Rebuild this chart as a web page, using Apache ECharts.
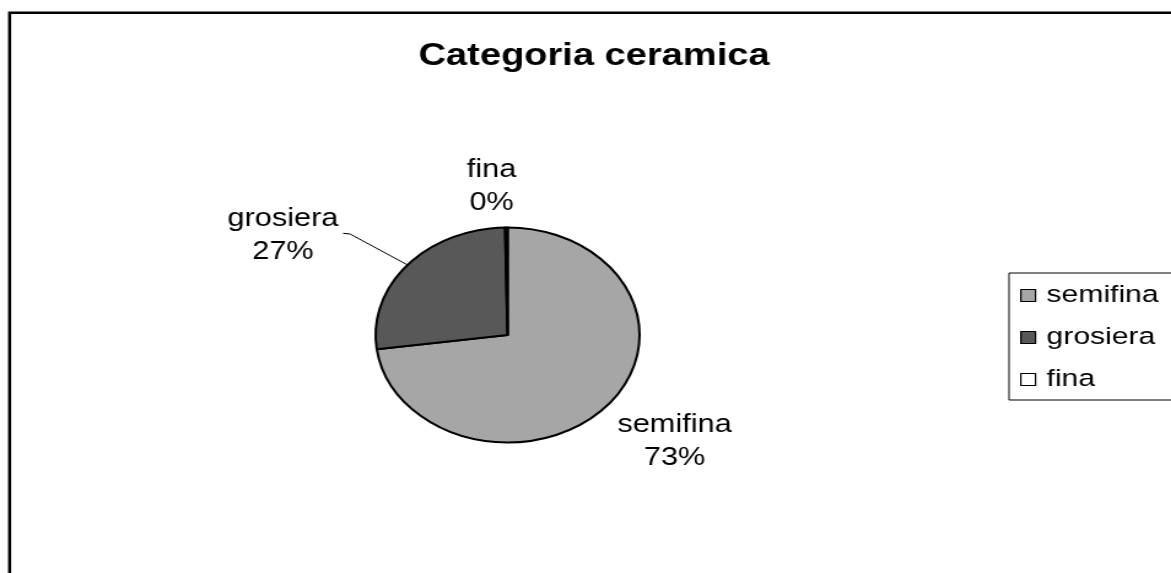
<!DOCTYPE html>
<html>
<head>
<meta charset="utf-8">
<title>Categoria ceramica</title>
<script src="https://cdn.jsdelivr.net/npm/echarts@6/dist/echarts.min.js"></script>
<style>
  html, body { margin: 0; padding: 0; background: #fff; overflow: hidden; }
  /* the source picture is stretched sideways, so draw narrow and stretch it */
  #chart { width: 954px; height: 573px; transform: scaleX(1.2275); transform-origin: 0 0; }
</style>
</head>
<body>
<div id="chart"></div>
<script>
const categories = ['semifina', 'grosiera', 'fina'];
const shares = [72.9, 26.8, 0.3];
const sliceColors = ['#a6a6a6', '#585858', '#ffffff'];

const font = 'Liberation Sans, Arial, sans-serif';
const pieX = 413.5, pieY = 335, pieR = 107.5;
// label block centres, relative to the pie centre
const labelPos = [[136, 106.5], [-183, -99], [-13, -148.5]];
// leader line of grosiera: bend and end, relative to the pie centre
const leader = [[-128.3, -101], [-134, -101.7]];

const total = shares.reduce((a, b) => a + b, 0);
// point on the rim at the middle of slice i
function rimPoint(i) {
  let before = 0;
  for (let k = 0; k < i; k++) before += shares[k];
  const a = (before + shares[i] / 2) / total * Math.PI * 2;
  return [pieX + pieR * Math.sin(a), pieY - pieR * Math.cos(a)];
}

const pieData = categories.map((name, i) => ({
  name: name,
  value: shares[i],
  itemStyle: { color: sliceColors[i] },
  labelLine: { show: i === 1 }
}));

const chart = echarts.init(document.getElementById('chart'));
chart.setOption({
  animation: false,
  backgroundColor: '#fff',
  title: {
    text: 'Categoria ceramica',
    left: 484,
    top: 41,
    padding: 0,
    textAlign: 'center',
    textStyle: { fontFamily: font, fontSize: 31, fontWeight: 'bold', color: '#000' }
  },
  legend: {
    data: categories,
    orient: 'vertical',
    left: 822,
    top: 273,
    padding: [10, 60, 8, 9],
    itemGap: 17,
    itemWidth: 12,
    itemHeight: 12,
    icon: 'rect',
    selectedMode: false,
    borderColor: '#000',
    borderWidth: 1,
    itemStyle: { borderColor: '#000', borderWidth: 1.2 },
    textStyle: { fontFamily: font, fontSize: 24.5, color: '#000', padding: [0, 0, 0, 4] }
  },
  graphic: [{
    type: 'rect',
    silent: true,
    z: -1,
    shape: { x: 7.8, y: 12.7, width: 2000, height: 2000 },
    style: { fill: 'none', stroke: '#000', lineWidth: 2.5 }
  }],
  series: [{
    type: 'pie',
    center: [pieX, pieY],
    radius: pieR,
    startAngle: 90,
    clockwise: true,
    avoidLabelOverlap: false,
    emphasis: { disabled: true },
    itemStyle: { borderColor: '#000', borderWidth: 2 },
    label: {
      show: true,
      position: 'outside',
      fontFamily: font,
      fontSize: 25,
      lineHeight: 33,
      color: '#000',
      formatter: p => p.name + '\n' + Math.round(p.percent) + '%'
    },
    labelLine: { show: true, lineStyle: { color: '#000', width: 1 } },
    labelLayout: function (p) {
      const i = p.dataIndex;
      const out = {
        x: pieX + labelPos[i][0],
        y: pieY + labelPos[i][1],
        align: 'center',
        verticalAlign: 'middle'
      };
      if (i === 1) {
        out.labelLinePoints = [
          rimPoint(1),
          [pieX + leader[0][0], pieY + leader[0][1]],
          [pieX + leader[1][0], pieY + leader[1][1]]
        ];
      }
      return out;
    },
    data: pieData
  }]
});
</script>
</body>
</html>
